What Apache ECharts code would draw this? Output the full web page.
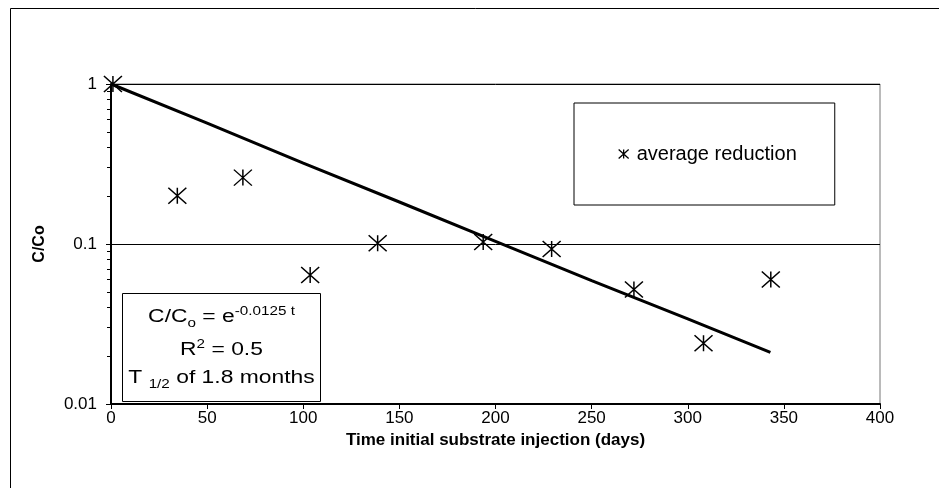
<!DOCTYPE html>
<html>
<head>
<meta charset="utf-8">
<script src="https://cdn.jsdelivr.net/npm/echarts@6/dist/echarts.min.js"></script>
<style>
html,body{margin:0;padding:0;background:#fff;}
#chart{width:939px;height:488px;}
</style>
</head>
<body>
<div id="chart"></div>
<script>
// ---- data ----
var days = [1, 34.5, 68.6, 103.6, 138.7, 193.6, 229.2, 272, 308.2, 343.2];
var reduction = [1.0, 0.20, 0.26, 0.064, 0.101, 0.103, 0.093, 0.052, 0.024, 0.060];
var trendDays = [0, 50, 100, 150, 200, 250, 300, 343];
var trendValues = [1.0, 0.57, 0.32, 0.183, 0.104, 0.059, 0.034, 0.021];
var minorTickValues = [0.02, 0.03, 0.04, 0.05, 0.06, 0.07, 0.08, 0.09, 0.2, 0.3, 0.4, 0.5, 0.6, 0.7, 0.8, 0.9];
var seriesName = 'average reduction';
var xTitle = 'Time initial substrate injection (days)';
var yTitle = 'C/Co';

var FONT = '"Liberation Sans", Arial, sans-serif';
var STAR = 'path://M0,0 L18,16 M0,16 L18,0 M9,0 L9,16';

var scatterData = days.map(function (d, i) { return [d, reduction[i]]; });
var trendData = trendDays.map(function (d, i) { return [d, trendValues[i]]; });

var chart = echarts.init(document.getElementById('chart'), null, { renderer: 'canvas' });
var option = {
  backgroundColor: '#fff',
  animation: false,
  grid: { left: 111, top: 84, right: 59, bottom: 84, show: true, borderColor: '#777', borderWidth: 1, backgroundColor: 'transparent' },
  legend: {
    left: 574, top: 103,
    padding: [41, 38, 41, 44],
    borderColor: '#000', borderWidth: 1,
    itemWidth: 10, itemHeight: 10, itemGap: 0,
    data: [{ name: seriesName, icon: STAR }],
    textStyle: { fontFamily: FONT, fontSize: 20, color: '#000', padding: [0, 0, 0, 3] },
    itemStyle: { color: 'transparent', borderColor: '#000', borderWidth: 1.3 }
  },
  xAxis: {
    type: 'value', min: 0, max: 400, interval: 50,
    name: xTitle, nameLocation: 'middle', nameGap: 27,
    nameTextStyle: { fontFamily: FONT, fontSize: 17, fontWeight: 'bold', color: '#000' },
    axisLine: { lineStyle: { color: '#000', width: 2 } },
    axisTick: { show: true, inside: false, length: 5, lineStyle: { color: '#000', width: 1 } },
    axisLabel: { fontFamily: FONT, fontSize: 17, color: '#000', margin: 6 },
    splitLine: { show: false }
  },
  yAxis: [{
    type: 'log', logBase: 10, min: 0.01, max: 1,
    name: yTitle, nameLocation: 'middle', nameRotate: 90, nameGap: 63,
    nameTextStyle: { fontFamily: FONT, fontSize: 16, fontWeight: 'bold', color: '#000' },
    axisLine: { lineStyle: { color: '#000', width: 2 } },
    axisTick: { show: true, inside: false, length: 5, lineStyle: { color: '#000', width: 1 } },
    axisLabel: { fontFamily: FONT, fontSize: 17, color: '#000', margin: 14 },
    splitLine: { show: true, lineStyle: { color: '#000', width: 1 } }
  }, {
    type: 'log', logBase: 10, min: 0.01, max: 1, position: 'left',
    axisLine: { show: false },
    axisTick: { show: true, inside: false, length: 4, customValues: minorTickValues, lineStyle: { color: '#000', width: 1 } },
    axisLabel: { show: false },
    splitLine: { show: false }
  }],
  series: [{
    name: 'trend', type: 'line', data: trendData, showSymbol: false, symbol: 'none',
    lineStyle: { color: '#000', width: 3 }, z: 2, silent: true
  }, {
    name: seriesName, type: 'scatter', data: scatterData,
    symbol: STAR, symbolSize: [18, 16],
    itemStyle: { color: 'transparent', borderColor: '#000', borderWidth: 1.4, opacity: 1 },
    z: 3
  }],
  graphic: [{
    type: 'rect', left: 8, top: 6, silent: true,
    shape: { width: 960, height: 500 },
    style: { fill: 'none', stroke: '#000', lineWidth: 1 }, z: -1
  }, {
    type: 'group', left: 122, top: 293, z: 10,
    children: [{
      type: 'rect', shape: { x: 0, y: 0, width: 198, height: 108 },
      style: { fill: '#fff', stroke: '#000', lineWidth: 1 }
    }, {
      type: 'text', x: 99, y: 24, scaleX: 1.27,
      style: {
        text: '{m|C/C}{sub|o}{m| = e}{sup|-0.0125 t}', align: 'center', verticalAlign: 'middle',
        rich: {
          m: { fontFamily: FONT, fontSize: 18, lineHeight: 24, fill: '#000' },
          sub: { fontFamily: FONT, fontSize: 12, lineHeight: 14, verticalAlign: 'bottom', fill: '#000' },
          sup: { fontFamily: FONT, fontSize: 12, lineHeight: 14, verticalAlign: 'top', fill: '#000' }
        }
      }
    }, {
      type: 'text', x: 99, y: 57, scaleX: 1.27,
      style: {
        text: '{m|R}{sup|2}{m| = 0.5}', align: 'center', verticalAlign: 'middle',
        rich: {
          m: { fontFamily: FONT, fontSize: 18, lineHeight: 24, fill: '#000' },
          sup: { fontFamily: FONT, fontSize: 12, lineHeight: 14, verticalAlign: 'top', fill: '#000' }
        }
      }
    }, {
      type: 'text', x: 99, y: 85, scaleX: 1.27,
      style: {
        text: '{m|T }{sub|1/2}{m| of 1.8 months}', align: 'center', verticalAlign: 'middle',
        rich: {
          m: { fontFamily: FONT, fontSize: 18, lineHeight: 24, fill: '#000' },
          sub: { fontFamily: FONT, fontSize: 12, lineHeight: 14, verticalAlign: 'bottom', fill: '#000' }
        }
      }
    }]
  }]
};
chart.setOption(option);
</script>
</body>
</html>
